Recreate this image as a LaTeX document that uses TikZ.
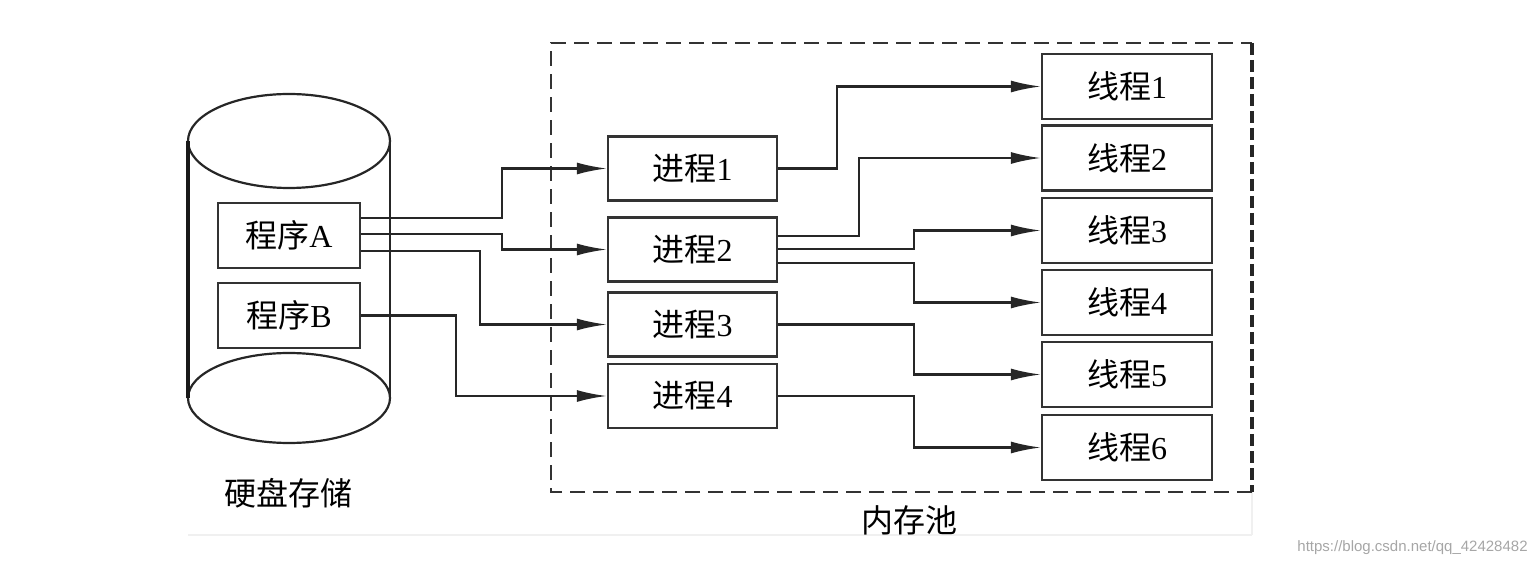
\documentclass[tikz,border=0pt]{standalone}
\usepackage{fontspec}
\setmainfont{Liberation Serif}
\newfontfamily\cjk{Noto Sans CJK SC}
\newfontfamily\wmfont{Liberation Sans}
\usetikzlibrary{arrows.meta,calc}
\newcommand{\zh}[1]{{\cjk #1}}
\begin{document}
\begin{tikzpicture}[x=0.5pt,y=-0.5pt,
  box/.style={draw=black!80,line width=1.2pt,rectangle,inner sep=0pt,font=\fontsize{16}{18}\selectfont},
  pbox/.style={box,minimum width=71pt,minimum height=32.5pt},
  jbox/.style={box,minimum width=84.5pt,minimum height=32pt},
  tbox/.style={box,minimum width=85pt,minimum height=32.5pt},
  arr/.style={draw=black!85,line width=1.1pt,-{Latex[length=15pt,width=6pt]}},
  lbl/.style={font=\fontsize{16}{18}\selectfont}]
\useasboundingbox (0,0) rectangle (1536,566);
% faint crop lines
\draw[black!6,line width=0.8pt] (188,535) -- (1252,535);
\draw[black!6,line width=0.8pt] (1252,492) -- (1252,535);
% cylinder
\draw[black!85,line width=1.1pt] (289,141) ellipse [x radius=50.5pt,y radius=23.5pt];
\draw[black!85,line width=1.1pt] (289,398) ellipse [x radius=50.5pt,y radius=22.5pt];
\draw[black!90,line width=1.8pt] (188,141) -- (188,398);
\draw[black!85,line width=1.1pt] (390,141) -- (390,398);
% memory pool
\draw[black!80,line width=1.1pt,dash pattern=on 7.5pt off 4pt] (1252,492) -- (551,492) -- (551,43) -- (1252,43);
\draw[black!85,line width=1.7pt,dash pattern=on 6pt off 2.5pt] (1252,43) -- (1252,492);
% program boxes
\node[pbox] (pa) at (289,235.5) {\zh{程序}A};
\node[pbox] (pb) at (289,315.5) {\zh{程序}B};
% process boxes
\node[jbox] (j1) at (692.5,168.5) {\zh{进程}1};
\node[jbox] (j2) at (692.5,249.5) {\zh{进程}2};
\node[jbox] (j3) at (692.5,324.5) {\zh{进程}3};
\node[jbox] (j4) at (692.5,396) {\zh{进程}4};
% thread boxes
\node[tbox] (t1) at (1127,86.5) {\zh{线程}1};
\node[tbox] (t2) at (1127,158) {\zh{线程}2};
\node[tbox] (t3) at (1127,230.5) {\zh{线程}3};
\node[tbox] (t4) at (1127,302.5) {\zh{线程}4};
\node[tbox] (t5) at (1127,374.5) {\zh{线程}5};
\node[tbox] (t6) at (1127,447.5) {\zh{线程}6};
% program -> process
\draw[arr] (pa.east |- {(0,218)}) -- (502,218) |- (j1.west);
\draw[arr] (pa.east |- {(0,234)}) -- (502,234) |- (j2.west);
\draw[arr] (pa.east |- {(0,251)}) -- (480,251) |- (j3.west);
\draw[arr] (pb.east) -- (456,315.5) |- (j4.west);
% process -> thread
\draw[arr] (j1.east) -- (837,168.5) |- (t1.west);
\draw[arr] (j2.east |- {(0,236)}) -- (859,236) |- (t2.west);
\draw[arr] (j2.east |- {(0,249)}) -- (914,249) |- (t3.west);
\draw[arr] (j2.east |- {(0,263)}) -- (914,263) |- (t4.west);
\draw[arr] (j3.east) -- (914,324.5) |- (t5.west);
\draw[arr] (j4.east) -- (914,396) |- (t6.west);
% labels
\node[lbl] (disk) at (288,493) {\zh{硬盘存储}};
\node[lbl] (pool) at (909,520) {\zh{内存池}};
\node[anchor=east,text=black!35,font=\wmfont\fontsize{7.5}{9}\selectfont,inner sep=0pt] (wm) at (1528,548) {https://blog.csdn.net/qq\_42428482};
\end{tikzpicture}
\end{document}
